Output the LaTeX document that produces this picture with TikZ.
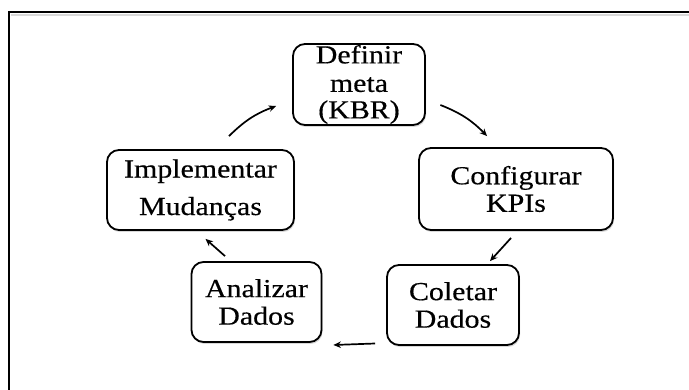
\documentclass[tikz,border=0pt]{standalone}
\usepackage{fontspec}
\setmainfont{Liberation Serif}
\newfontfamily\dfont[FakeStretch=1.15,FakeBold=0.4]{Liberation Serif}
\usetikzlibrary{arrows.meta,shadows,calc}
\begin{document}
\begin{tikzpicture}[x=1pt,y=-1pt,
  stepbox/.style={draw=black, line width=1.8pt, rounded corners=12pt, fill=white,
    align=center, inner sep=0pt, font=\dfont\fontsize{26}{27.5}\selectfont,
    drop shadow={shadow xshift=1pt, shadow yshift=-2pt, opacity=0.25, fill=black!60}},
  arr/.style={line width=1.7pt, -{Stealth[length=7.5pt,width=6.5pt]}}]
\useasboundingbox (0,0) rectangle (689,390);
\fill[white] (0,0) rectangle (689,390);
% frame
\draw[black!15, line width=2pt] (11,15.5) -- (689,15.5);
\draw[black, line width=2.2pt] (9,12) -- (689,12);
\draw[black, line width=2.2pt] (9,11) -- (9,390);
% boxes
\node[stepbox, minimum width=132pt, minimum height=81pt] (def) at (359,84.5) {Definir\\[1pt]meta\\[-1pt](KBR)};
\node[stepbox, minimum width=194pt, minimum height=82pt] (conf) at (516,189) {Configurar\\KPIs};
\node[stepbox, minimum width=187pt, minimum height=80pt] (impl) at (200.5,190) {Implementar\\[10pt]Mudanças};
\node[stepbox, minimum width=130pt, minimum height=80pt] (ana) at (256.5,302) {Analizar\\Dados};
\node[stepbox, minimum width=132pt, minimum height=80pt] (col) at (453,305) {Coletar\\Dados};
% arrows
\draw[arr] ($(impl.north)+(28.5,-13)$) to[bend left=12] ($(def.west)+(-16,21.5)$);
\draw[arr] ($(def.east)+(14.5,20.5)$) to[bend left=12] ($(conf.north west)+(69,-11)$);
\draw[arr] ($(conf.south west)+(93,7)$) -- ($(col.north)+(37,-3)$);
\draw[arr] ($(col.west)+(-11,38.5)$) -- ($(ana.east)+(11,43)$);
\draw[arr] ($(ana.north)+(-31.5,-5)$) -- ($(impl.south)+(5,8)$);
\end{tikzpicture}
\end{document}
